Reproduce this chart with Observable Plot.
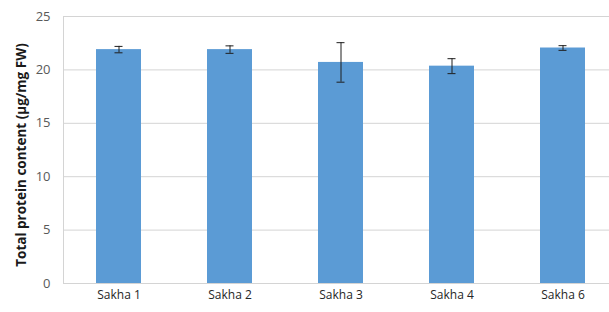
<!DOCTYPE html>
<html>
<head>
<meta charset="utf-8">
<script src="https://cdn.jsdelivr.net/npm/d3@7"></script>
<script src="https://cdn.jsdelivr.net/npm/@observablehq/plot@0.6"></script>
<style>
  html, body { margin: 0; padding: 0; background: #fff; }
  svg { font-family: "Open Sans", "Liberation Sans", sans-serif; }
</style>
</head>
<body>
<div id="chart"></div>
<script>
const categories = ["Sakha 1", "Sakha 2", "Sakha 3", "Sakha 4", "Sakha 6"];
const means = [21.9, 21.9, 20.7, 20.35, 22.05];
const errors = [0.3, 0.35, 1.85, 0.7, 0.22];
const yTicks = [0, 5, 10, 15, 20, 25];
const yTitle = "Total protein content (\u00b5g/mg FW)";

const data = categories.map((c, i) => ({name: c, mean: means[i], lo: means[i] - errors[i], hi: means[i] + errors[i]}));

const chart = Plot.plot({
  width: 609,
  height: 312,
  marginTop: 16,
  marginBottom: 29,
  marginLeft: 63,
  marginRight: 0,
  style: {background: "#fff", overflow: "visible"},
  x: {domain: categories, range: [63, 618], paddingInner: 0.595, paddingOuter: 0.2975, label: null},
  y: {domain: [0, 25], label: null},
  marks: [
    Plot.gridY(yTicks, {stroke: "#d4d4d4", strokeOpacity: 1}),
    Plot.frame({anchor: "left", stroke: "#d4d4d4", strokeOpacity: 1}),
    Plot.barY(data, {x: "name", y: "mean", fill: "#5b9bd5"}),
    Plot.ruleX(data, {x: "name", y1: "lo", y2: "hi", stroke: "#1f1f1f", strokeWidth: 1}),
    Plot.tickY(data, {x: "name", y: "hi", stroke: "#1f1f1f", insetLeft: 18.5, insetRight: 18.5}),
    Plot.tickY(data, {x: "name", y: "lo", stroke: "#1f1f1f", insetLeft: 18.5, insetRight: 18.5}),
    Plot.axisY({ticks: yTicks, tickSize: 0, tickPadding: 13, fontSize: 13, fill: "#595959", label: null}),
    Plot.axisX({tickSize: 0, tickPadding: 7, fontSize: 12, fill: "#262626", label: null}),
    Plot.text([yTitle], {frameAnchor: "left", textAnchor: "middle", rotate: -90, dx: -42, dy: 5, fontSize: 13.5, fontWeight: "bold", fill: "#1a1a1a"})
  ]
});
document.getElementById("chart").appendChild(chart);
</script>
</body>
</html>
